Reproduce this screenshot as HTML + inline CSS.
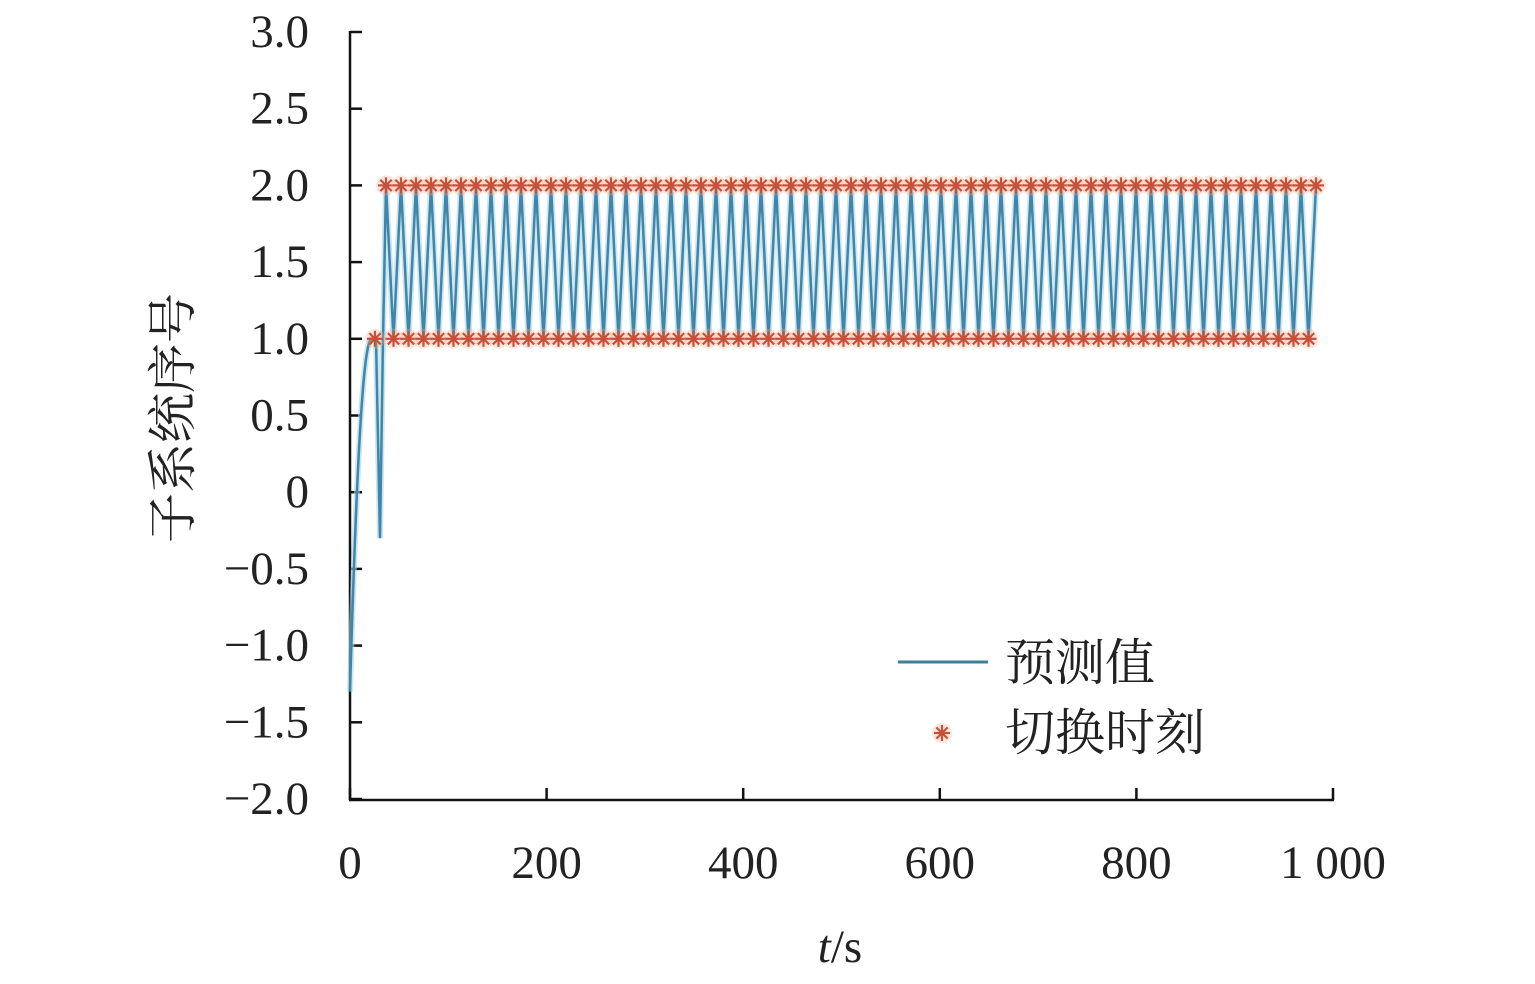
<!DOCTYPE html>
<html><head><meta charset="utf-8"><style>
body{margin:0;background:#fff;}
svg{display:block}
.t{font-family:"Liberation Serif","Noto Serif CJK SC",serif;font-size:47px;fill:#222}
.c{font-family:"Liberation Serif","Noto Serif CJK SC",serif;font-size:50px;fill:#222}
</style></head><body>
<svg id="s" width="1535" height="984" xmlns="http://www.w3.org/2000/svg">
<g stroke="#111" stroke-width="2.5" fill="none">
<line x1="350" y1="31" x2="350" y2="800"/>
<line x1="349" y1="800" x2="1334" y2="800"/>
</g>
<g id="ticks" stroke="#111" stroke-width="2.5"></g>
<g id="ylab" class="t" text-anchor="end"></g>
<g id="xlab" class="t" text-anchor="middle"></g>
<g id="plot"></g>
<text class="c" x="0" y="0" transform="translate(190,418) rotate(-90)" text-anchor="middle">子系统序号</text>
<text class="t" x="840" y="962" text-anchor="middle"><tspan font-style="italic">t</tspan>/s</text>
<line x1="898" y1="662" x2="988" y2="662" stroke="#3f7d98" stroke-width="3"/>
<text class="c" x="1005" y="680">预测值</text>
<g id="legstar"></g>
<text class="c" x="1005" y="750">切换时刻</text>
</svg>
<script>
const NS="http://www.w3.org/2000/svg";
function el(p,t,a){const e=document.createElementNS(NS,t);for(const k in a)e.setAttribute(k,a[k]);p.appendChild(e);return e;}
const X=t=>350+t*0.983, Y=v=>799-(v+2)*153.4;
const tk=document.getElementById('ticks'),yl=document.getElementById('ylab'),xl=document.getElementById('xlab');
const ylabels=["−2.0","−1.5","−1.0","−0.5","0","0.5","1.0","1.5","2.0","2.5","3.0"];
for(let i=0;i<=10;i++){const v=-2+i*0.5,y=Y(v);el(tk,'line',{x1:350,y1:y,x2:362,y2:y});const t=el(yl,'text',{x:309,y:y+15});t.textContent=ylabels[i];}
const xs=["0","200","400","600","800","1 000"];
for(let i=0;i<=5;i++){const x=X(i*200);el(tk,'line',{x1:x,y1:800,x2:x,y2:788});const t=el(xl,'text',{x:x,y:878});t.textContent=xs[i];}
const p=document.getElementById('plot');
let pts=[];
for(let i=0;i<=22;i++){const x=350+i;const f=i/22;const v=-1.3+2.3*(1-Math.pow(1-f,2.2));pts.push([x,Y(v)]);}
pts.push([376,Y(1)],[380,Y(-0.3)],[383,Y(1)],[386,Y(2)]);
const tops=[],bots=[];
let x=386;
bots.push(375);
while(x<=1330){tops.push(x);pts.push([x,Y(2)]);const xb=x+7.5;if(xb<=1320){bots.push(xb);pts.push([xb,Y(1)]);}x+=15;}
el(p,'polyline',{points:pts.map(q=>q.join(',')).join(' '),fill:'none',stroke:'#a8d6e6','stroke-width':6,opacity:0.6});
el(p,'polyline',{points:pts.map(q=>q.join(',')).join(' '),fill:'none',stroke:'#3f86a8','stroke-width':2.5});
function star(g,cx,cy,r){el(g,'circle',{cx:cx,cy:cy,r:r+2,fill:'#f4b090',opacity:0.3});
for(let a=0;a<4;a++){const ang=a*Math.PI/4;el(g,'line',{x1:cx-r*Math.cos(ang),y1:cy-r*Math.sin(ang),x2:cx+r*Math.cos(ang),y2:cy+r*Math.sin(ang),stroke:'#c8503a','stroke-width':2.2});}}
tops.forEach(x=>star(p,x,Y(2),8));
bots.forEach(x=>star(p,x,Y(1),8));
star(document.getElementById('legstar'),942,733,8);
</script>
</body></html>
